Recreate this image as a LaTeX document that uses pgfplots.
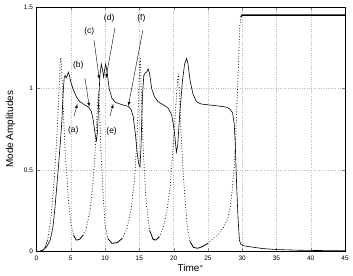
\documentclass[border=0pt]{standalone}
\usepackage{fontspec}
\setmainfont{Liberation Sans}
\usepackage{pgfplots}
\pgfplotsset{compat=1.18}
\begin{document}
\begin{tikzpicture}[x=1bp,y=1bp]
\begin{axis}[
  scale only axis,
  width=308.5bp, height=244.5bp,
  at={(36.5bp,24.5bp)}, anchor=south west,
  xmin=0, xmax=45, ymin=0, ymax=1.5,
  xtick={0,5,...,45}, ytick={0,0.5,1,1.5},
  yticklabels={0,0.5,1,1.5},
  tick align=inside, major tick length=3bp,
  grid=major, grid style={dotted, gray!55, line width=0.35pt},
  axis line style={line width=0.5pt},
  tick label style={font=\fontsize{6.5}{7}\selectfont},
  /pgf/number format/assume math mode=true,
  xticklabel style={yshift=-1bp},
  xlabel={Time$^{*}$}, ylabel={Mode Amplitudes},
  label style={font=\fontsize{10}{11}\selectfont},
  xlabel style={yshift=3bp},
  ylabel style={yshift=2bp},
  clip=true,
  mode2fast/.style={black, line width=1.0pt, line cap=round, dash pattern=on 0pt off 2.8pt},
  mode2slow/.style={black, line width=0.8pt},
]
% Mode 1 (solid)
\addplot[black, line width=0.6pt] coordinates {
(0,0) (0.5,0.001) (1,0.01) (1.5,0.03) (2,0.07) (2.4,0.15) (2.7,0.27) (3.0,0.42) (3.2,0.52) (3.5,0.68) (3.7,0.8) (3.9,0.98) (4.05,1.07) (4.2,1.08) (4.35,1.065) (4.5,1.08) (4.65,1.1) (4.8,1.08) (5.0,1.04) (5.4,0.99) (5.8,0.95) (6.3,0.92) (7.0,0.9) (7.6,0.885) (8.0,0.86) (8.3,0.8) (8.55,0.72) (8.75,0.68) (8.9,0.74) (9.05,0.9) (9.25,1.08) (9.45,1.15) (9.6,1.12) (9.8,1.07) (9.95,1.12) (10.1,1.15) (10.3,1.1) (10.6,1.0) (11.0,0.94) (11.5,0.915) (12.5,0.9) (13.4,0.89) (13.8,0.87) (14.1,0.83) (14.4,0.73) (14.7,0.6) (14.95,0.53) (15.1,0.52) (15.25,0.65) (15.45,0.95) (15.65,1.08) (15.85,1.095) (16.05,1.1) (16.3,1.12) (16.5,1.09) (16.8,1.0) (17.2,0.95) (17.7,0.92) (18.5,0.9) (19.2,0.88) (19.7,0.84) (20.0,0.77) (20.2,0.7) (20.4,0.61) (20.6,0.65) (20.9,0.85) (21.3,1.05) (21.6,1.15) (21.9,1.185) (22.1,1.15) (22.4,1.05) (22.8,0.97) (23.3,0.92) (24.0,0.905) (25,0.9) (26,0.895) (27,0.89) (27.8,0.885) (28.3,0.87) (28.6,0.85) (28.85,0.78) (29.0,0.65) (29.2,0.4) (29.4,0.2) (29.6,0.07) (29.8,0.045) (30.2,0.035) (31,0.03) (32,0.024) (33,0.018) (35,0.012) (38,0.008) (41,0.006) (45,0.005)
};
% Mode 2: slow stretches (dense samples look solid) and fast stretches (sparse dots)
\addplot[mode2slow, line width=0.5pt] coordinates {(0,0) (0.5,0.002) (1,0.01) (1.3,0.03) (1.6,0.07)};
\addplot[mode2fast] coordinates {(1.6,0.07) (2.0,0.17) (2.3,0.3) (2.6,0.45) (2.9,0.65) (3.1,0.82) (3.3,1.0) (3.45,1.15) (3.55,1.19) (3.65,1.13) (3.8,0.97) (4.0,0.78) (4.2,0.6) (4.4,0.48) (4.7,0.3) (5.0,0.18) (5.4,0.1)};
\addplot[mode2slow] coordinates {(5.4,0.1) (5.8,0.07) (6.3,0.075) (6.8,0.1)};
\addplot[mode2fast] coordinates {(6.8,0.1) (7.3,0.15) (7.8,0.25) (8.2,0.4) (8.5,0.58) (8.75,0.78) (8.95,0.94) (9.05,0.98) (9.2,0.88) (9.4,0.62) (9.7,0.36) (10.0,0.16) (10.4,0.08)};
\addplot[mode2slow] coordinates {(10.4,0.08) (11.0,0.05) (11.8,0.055) (12.5,0.08)};
\addplot[mode2fast] coordinates {(12.5,0.08) (13.2,0.14) (13.8,0.26) (14.3,0.44) (14.6,0.65) (14.85,0.9) (15.05,1.15) (15.15,1.19) (15.3,0.95) (15.6,0.6) (16.0,0.3) (16.5,0.13)};
\addplot[mode2slow] coordinates {(16.5,0.13) (17.0,0.075) (17.4,0.07) (17.9,0.09)};
\addplot[mode2fast] coordinates {(17.9,0.09) (18.5,0.15) (19.0,0.24) (19.5,0.4) (19.9,0.62) (20.3,0.88) (20.6,1.06) (20.7,1.09) (20.85,0.98) (21.1,0.72) (21.4,0.48) (21.7,0.3) (22.0,0.15) (22.4,0.06)};
\addplot[mode2slow] coordinates {(22.4,0.06) (22.9,0.025) (23.5,0.02) (24.2,0.03) (25.0,0.05)};
\addplot[mode2fast] coordinates {(25.0,0.05) (25.8,0.08) (26.6,0.11) (27.3,0.15) (27.9,0.2) (28.3,0.28) (28.6,0.4) (28.9,0.55) (29.1,0.75) (29.3,0.97) (29.5,1.2) (29.65,1.38) (29.8,1.44)};
\addplot[black, line width=1.3pt] coordinates {(29.8,1.44) (30,1.45) (45,1.45)};
% annotations
\node[font=\fontsize{8.5}{9}\selectfont] at (axis cs:5.35,0.745) {(a)};
\draw[-latex, line width=0.4pt] (axis cs:5.47,0.83) -- (axis cs:5.95,0.905);
\node[font=\fontsize{8.5}{9}\selectfont] at (axis cs:6.1,1.145) {(b)};
\draw[-latex, line width=0.4pt] (axis cs:7.07,1.063) -- (axis cs:7.7,0.888);
\node[font=\fontsize{8.5}{9}\selectfont] at (axis cs:7.7,1.35) {(c)};
\draw[-latex, line width=0.4pt] (axis cs:8.38,1.30) -- (axis cs:9.16,1.056);
\node[font=\fontsize{8.5}{9}\selectfont] at (axis cs:10.6,1.43) {(d)};
\draw[-latex, line width=0.4pt] (axis cs:11.44,1.37) -- (axis cs:10.13,1.063);
\node[font=\fontsize{8.5}{9}\selectfont] at (axis cs:10.96,0.735) {(e)};
\draw[-latex, line width=0.4pt] (axis cs:10.71,0.83) -- (axis cs:11.2,0.905);
\node[font=\fontsize{8.5}{9}\selectfont] at (axis cs:15.3,1.43) {(f)};
\draw[-latex, line width=0.4pt] (axis cs:15.5,1.355) -- (axis cs:13.4,0.893);
\end{axis}
\pgfresetboundingbox
\useasboundingbox (0,0) rectangle (353bp,276bp);
\end{tikzpicture}
\end{document}
